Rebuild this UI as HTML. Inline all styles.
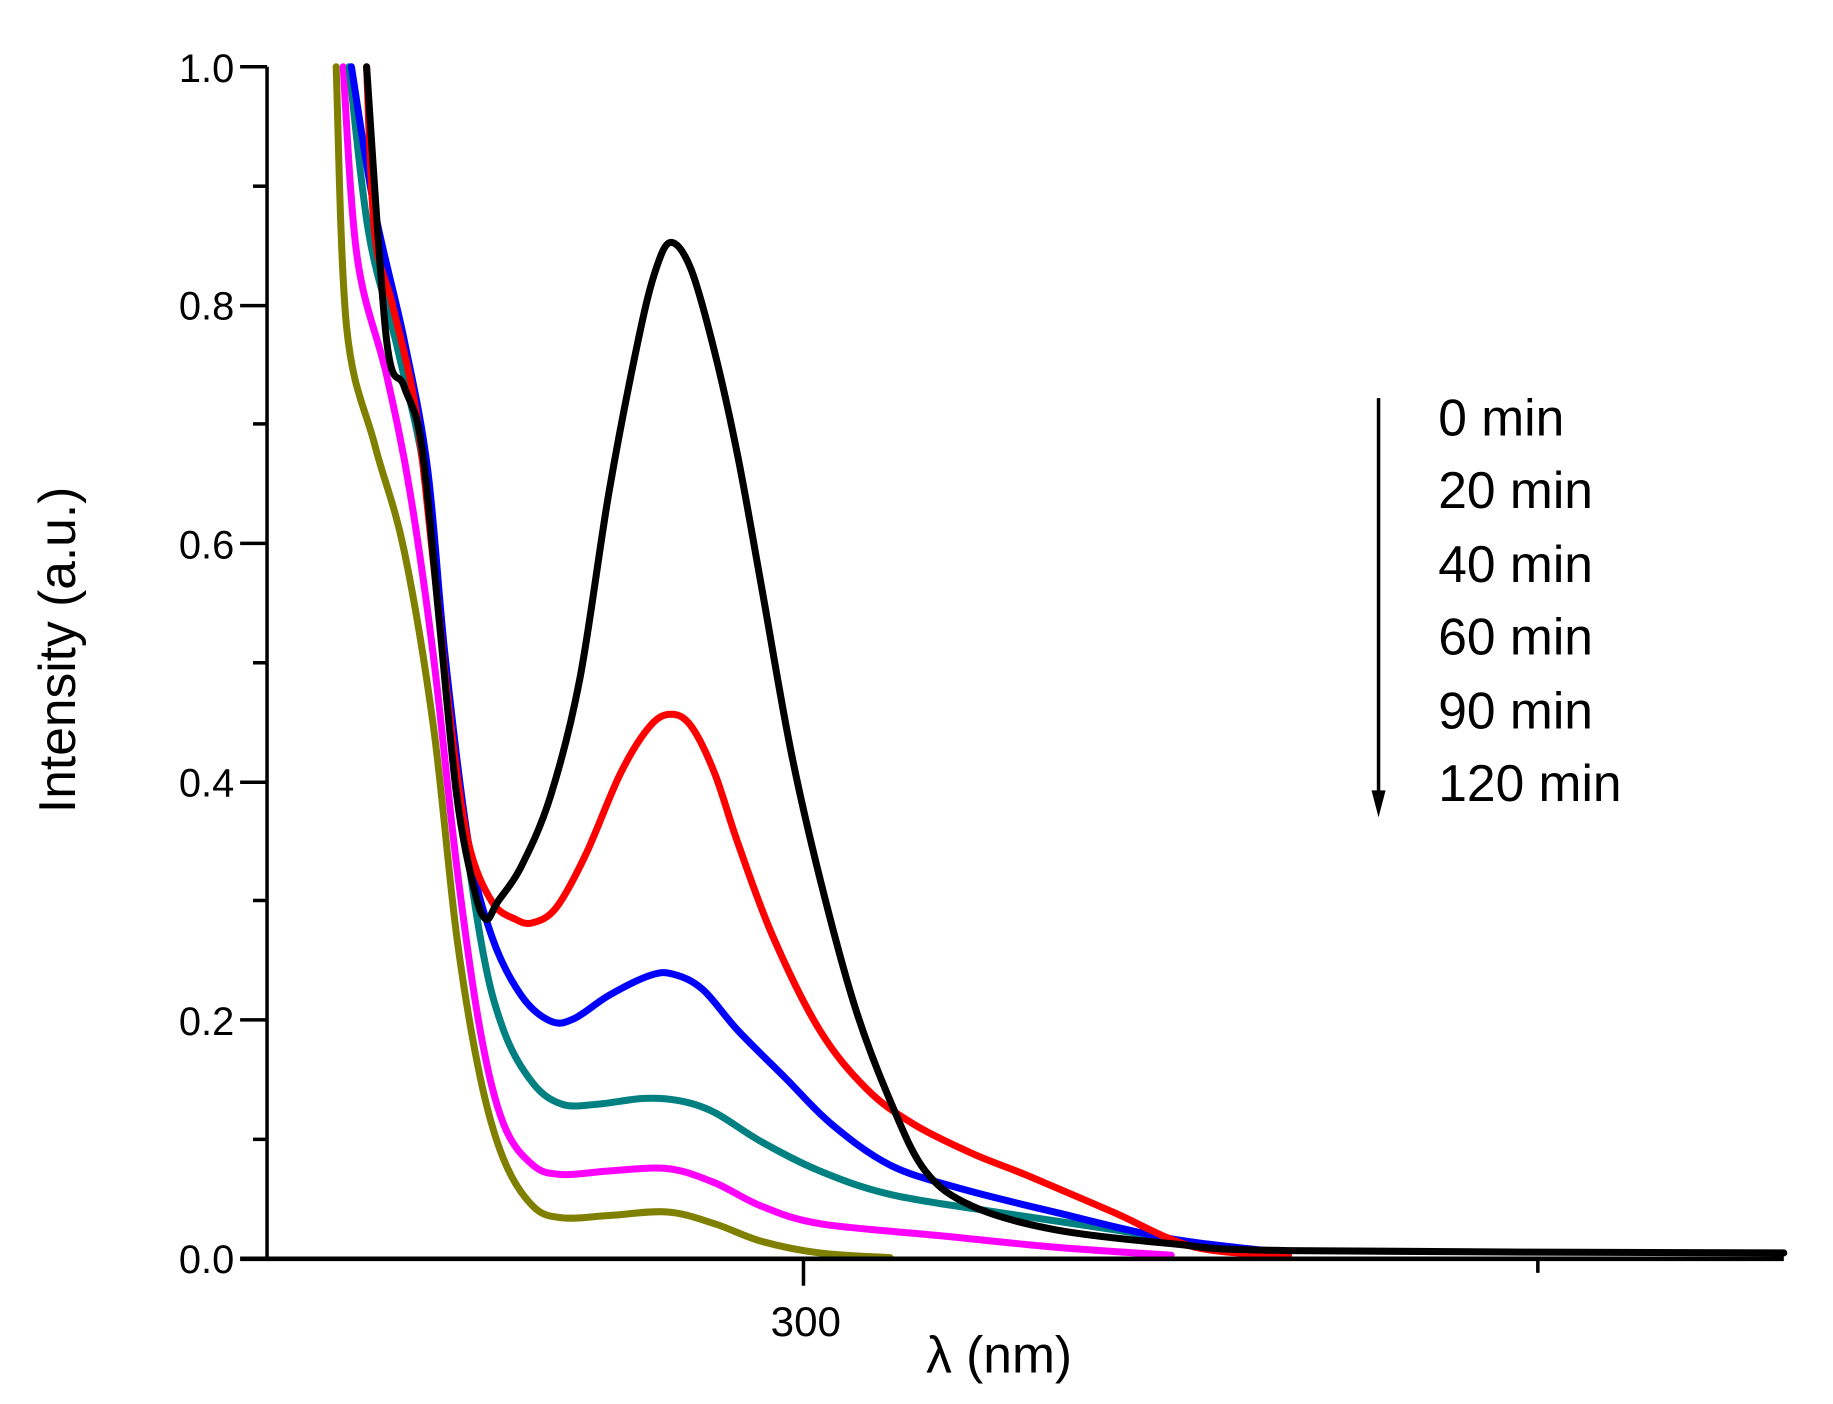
<!DOCTYPE html>
<html><head><meta charset="utf-8"><style>
html,body{margin:0;padding:0;background:#fff;}
svg{display:block;}
text{font-family:"Liberation Sans",Arial,sans-serif;fill:#000;}
</style></head><body>
<svg width="1833" height="1404" viewBox="0 0 1565 1199" preserveAspectRatio="none" xmlns="http://www.w3.org/2000/svg">
<rect width="1565" height="1199" fill="#fff"/>
<g id="curves" fill="none" stroke-width="6" stroke-linejoin="round" stroke-linecap="round">
<polyline stroke="#808000" points="287,57 296,280 320,380 345,470 370,620 390,800 410,920 430,990 455,1030 480,1040 520,1038 570,1035 610,1045 650,1060 700,1070 760,1074"/>
<polyline stroke="#ff00ff" points="293,57 305,220 330,320 350,420 370,560 390,740 410,880 430,960 455,995 480,1003 520,1000 570,998 610,1010 650,1030 700,1045 800,1055 900,1065 1000,1072"/>
<polyline stroke="#008080" points="298,57 315,200 340,300 365,420 385,620 410,800 430,880 455,925 480,943 510,943 550,938 580,940 610,950 650,975 700,1000 760,1020 850,1035 950,1050 1040,1065 1100,1072"/>
<polyline stroke="#0000ff" points="300,57 320,180 345,290 365,400 380,560 400,720 420,800 445,850 470,872 490,870 520,850 555,833 575,832 600,845 630,880 670,920 710,960 760,995 820,1015 900,1035 1000,1058 1100,1070"/>
<polyline stroke="#ff0000" points="313,57 320,200 335,260 355,350 370,480 385,620 400,720 420,770 440,785 455,788 475,775 500,730 530,660 555,620 573,610 590,620 610,660 630,720 660,800 700,880 740,930 780,960 830,985 880,1005 950,1035 1020,1065 1100,1072"/>
<polyline stroke="#000000" points="313,57 330,290 345,330 360,380 375,530 390,680 405,760 415,785 425,770 445,740 470,680 495,580 520,420 545,290 560,230 573,207 590,230 610,300 630,390 650,500 675,640 700,750 730,860 760,940 790,1000 830,1030 900,1050 1000,1062 1100,1068 1523,1070"/>
</g>
<g stroke="#000" stroke-width="3">
<line x1="228" y1="57" x2="228" y2="1075"/>
<line x1="205" y1="1075" x2="1523" y2="1075" stroke-width="4"/>
<line x1="205" y1="57" x2="228" y2="57"/>
<line x1="205" y1="261" x2="228" y2="261"/>
<line x1="205" y1="464" x2="228" y2="464"/>
<line x1="205" y1="668" x2="228" y2="668"/>
<line x1="205" y1="871" x2="228" y2="871"/>
<line x1="216" y1="159" x2="228" y2="159"/>
<line x1="216" y1="362" x2="228" y2="362"/>
<line x1="216" y1="566" x2="228" y2="566"/>
<line x1="216" y1="769" x2="228" y2="769"/>
<line x1="216" y1="973" x2="228" y2="973"/>
<line x1="686" y1="1075" x2="686" y2="1098"/>
<line x1="1313" y1="1075" x2="1313" y2="1087"/>
<line x1="1177" y1="340" x2="1177" y2="680"/>
</g>
<polygon points="1171,675 1183,675 1177,698" fill="#000"/>
<g font-size="34" text-anchor="end">
<text x="200" y="70">1.0</text>
<text x="200" y="273">0.8</text>
<text x="200" y="477">0.6</text>
<text x="200" y="680">0.4</text>
<text x="200" y="884">0.2</text>
<text x="200" y="1087">0.0</text>
</g>
<text x="688" y="1141" font-size="36" text-anchor="middle">300</text>
<text x="853" y="1172" font-size="44" text-anchor="middle">λ (nm)</text>
<text transform="translate(64,555) rotate(-90)" font-size="44" text-anchor="middle">Intensity (a.u.)</text>
<g font-size="44">
<text x="1228" y="372">0 min</text>
<text x="1228" y="434">20 min</text>
<text x="1228" y="497">40 min</text>
<text x="1228" y="559">60 min</text>
<text x="1228" y="622">90 min</text>
<text x="1228" y="684">120 min</text>
</g>
</svg>
<script>
document.querySelectorAll('#curves polyline').forEach(function(pl){
  var p=pl.getAttribute('points').trim().split(/\s+/).map(function(s){return s.split(',').map(Number);});
  var d='M'+p[0][0]+','+p[0][1];
  for(var i=0;i<p.length-1;i++){
    var p0=p[i-1]||p[i],p1=p[i],p2=p[i+1],p3=p[i+2]||p2;
    var c1=[p1[0]+(p2[0]-p0[0])/6,p1[1]+(p2[1]-p0[1])/6];
    var c2=[p2[0]-(p3[0]-p1[0])/6,p2[1]-(p3[1]-p1[1])/6];
    d+=' C'+c1+' '+c2+' '+p2;
  }
  var path=document.createElementNS('http://www.w3.org/2000/svg','path');
  path.setAttribute('d',d);path.setAttribute('stroke',pl.getAttribute('stroke'));
  pl.parentNode.replaceChild(path,pl);
});
</script>
</body></html>
